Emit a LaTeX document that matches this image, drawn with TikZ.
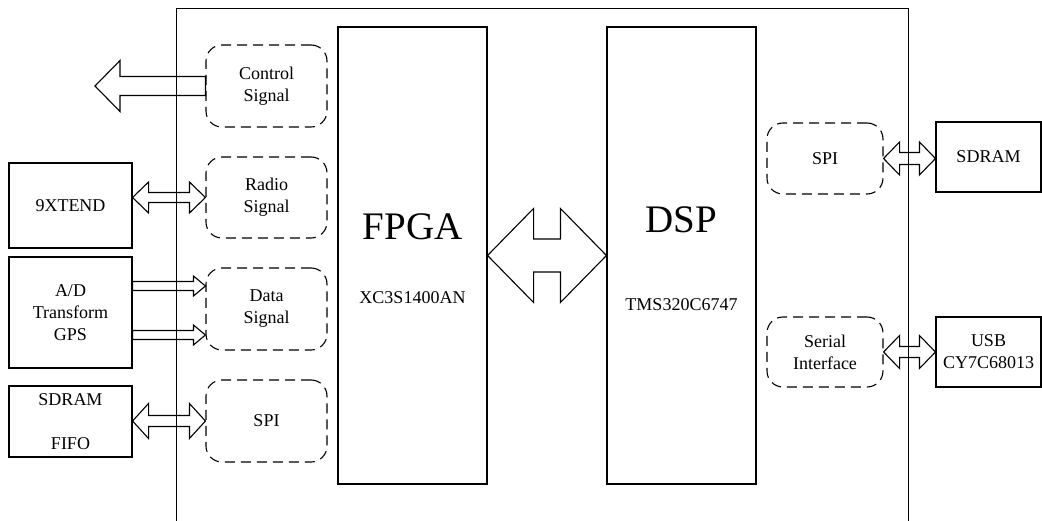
\documentclass[tikz,border=0pt]{standalone}
\usepackage{fontspec}
\setmainfont{Liberation Serif}
\usetikzlibrary{calc}

\tikzset{
  box/.style={draw, line width=1.1pt, inner sep=0pt, align=center},
  sig/.style={draw, line width=1.1pt, dash pattern=on 10pt off 6pt, rounded corners=16pt, inner sep=0pt, align=center},
  fat/.style={draw, line width=1.1pt, line join=miter},
  big/.style={font=\fontsize{39}{44}\selectfont}
}
% double block arrow: tip 1, tip 2, head length, head half width, shaft half width
\newcommand\twoway[5]{%
  \draw[fat] let \p1=#1, \p2=#2 in
    (\x1,\y1) -- ({\x1+#3},{\y1+#4}) -- ({\x1+#3},{\y1+#5}) -- ({\x2-#3},{\y1+#5})
    -- ({\x2-#3},{\y1+#4}) -- (\x2,\y1) -- ({\x2-#3},{\y1-#4}) -- ({\x2-#3},{\y1-#5})
    -- ({\x1+#3},{\y1-#5}) -- ({\x1+#3},{\y1-#4}) -- cycle;}
% single block arrow: tail, tip, head length (signed), head half width, shaft half width
\newcommand\oneway[5]{%
  \draw[fat] let \p1=#1, \p2=#2 in
    (\x1,{\y1+#5}) -- ({\x2-(#3)},{\y1+#5}) -- ({\x2-(#3)},{\y1+#4}) -- (\x2,\y1)
    -- ({\x2-(#3)},{\y1-#4}) -- ({\x2-(#3)},{\y1-#5}) -- (\x1,{\y1-#5}) -- cycle;}

\begin{document}
\begin{tikzpicture}[x=1pt, y=-1pt, font=\fontsize{18}{22}\selectfont]
\useasboundingbox (0,0) rectangle (1042,521);

% board outline
\draw[line width=0.8pt] (176,521) -- (176,8) -- (908,8) -- (908,521);

% main chips
\node[box, minimum width=149pt, minimum height=457pt] (fpga) at (412.5,255.5) {};
\node[big] (fpganame) at (412.5,227) {FPGA};
\node (fpgapart) at (412.5,298) {XC3S1400AN};
\node[box, minimum width=149pt, minimum height=457pt] (dsp) at (681.5,255.5) {};
\node[big] (dspname) at (681.5,220) {DSP};
\node (dsppart) at (681.5,305) {TMS320C6747};

% interfaces
\node[sig, minimum width=121pt, minimum height=82pt] (ctrl) at (266.5,86) {Control\\Signal};
\node[sig, minimum width=121pt, minimum height=81pt] (radio) at (266.5,197.5) {Radio\\Signal};
\node[sig, minimum width=121pt, minimum height=82pt] (data) at (266.5,309) {Data\\Signal};
\node[sig, minimum width=121pt, minimum height=82pt] (spil) at (266.5,421) {SPI};
\node[sig, minimum width=116pt, minimum height=71pt] (spir) at (825,158.5) {SPI};
\node[sig, minimum width=116pt, minimum height=70pt] (serial) at (825,352) {Serial\\Interface};

% external devices
\node[box, minimum width=123pt, minimum height=85pt] (xtend) at (70.5,205.5) {9XTEND};
\node[box, minimum width=123pt, minimum height=111pt] (ad) at (70.5,312.5) {A/D\\Transform\\GPS};
\node[box, minimum width=123pt, minimum height=71pt] (fifo) at (70.5,421.5) {SDRAM\\[22pt]FIFO};
\node[box, minimum width=105pt, minimum height=70pt] (sdram) at (988.5,157) {SDRAM};
\node[box, minimum width=105pt, minimum height=70pt] (usb) at (988.5,352) {USB\\CY7C68013};

% buses
\oneway{(ctrl.west)}{(95,86)}{-25pt}{25.5pt}{9.5pt}
\twoway{(xtend.east |- radio.west)}{(radio.west)}{16pt}{15.5pt}{5pt}
\oneway{([yshift=26.5pt]ad.east)}{(data.west |- 0,286)}{12pt}{10pt}{4.5pt}
\oneway{([yshift=-22.5pt]ad.east)}{(data.west |- 0,335)}{12pt}{10pt}{4.5pt}
\twoway{(fifo.east |- spil.west)}{(spil.west)}{16pt}{17.5pt}{5.5pt}
\twoway{(fpga.east)}{(dsp.west)}{46pt}{47pt}{16.5pt}
\twoway{(spir.east)}{(sdram.west |- spir.east)}{16pt}{16.5pt}{6pt}
\twoway{(serial.east)}{(usb.west)}{16pt}{16.5pt}{5.5pt}
\end{tikzpicture}
\end{document}
